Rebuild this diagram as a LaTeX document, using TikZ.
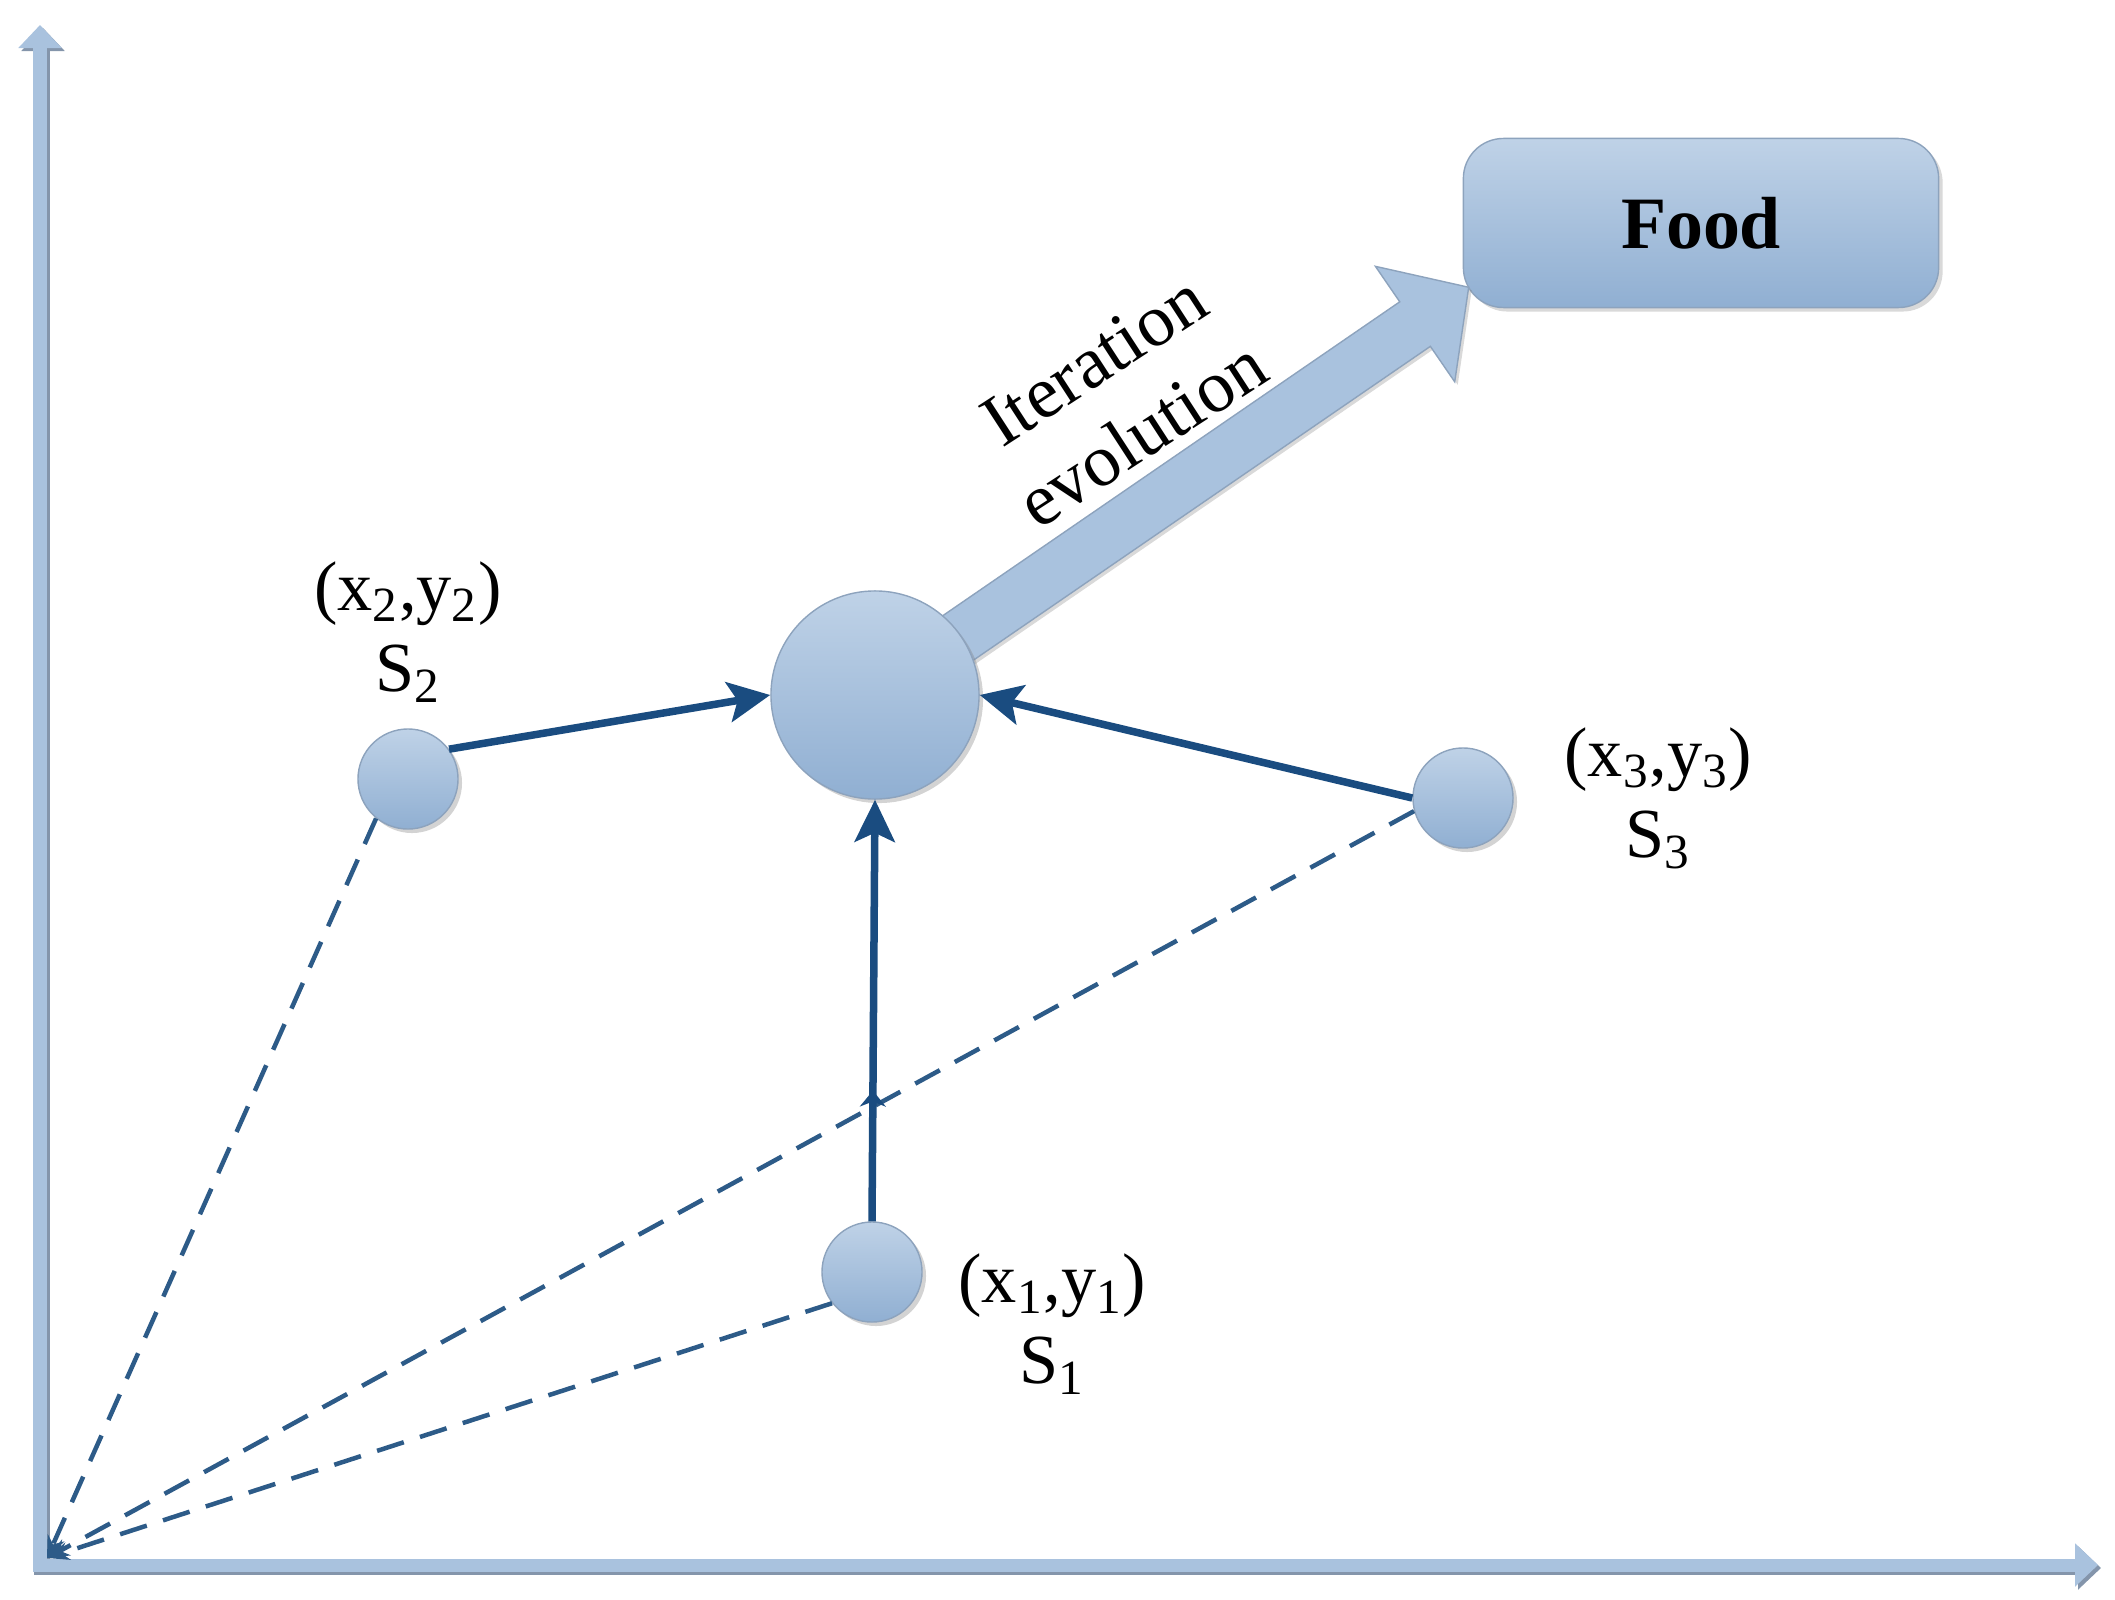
\documentclass[tikz,border=0pt]{standalone}
\usepackage{fontspec}
\setmainfont{Liberation Serif}
\usetikzlibrary{positioning,calc,arrows.meta,shadows,decorations.markings}

\definecolor{nodetop}{HTML}{BFD2E7}
\definecolor{nodebot}{HTML}{90AFD2}
\definecolor{nodeedge}{HTML}{8DA3BD}
\definecolor{axisblue}{HTML}{A9C2DE}
\definecolor{axisedge}{HTML}{8495AB}
\definecolor{pathblue}{HTML}{1A4C80}
\definecolor{dashblue}{HTML}{2D5B88}

\tikzset{
  agent/.style={circle, inner sep=0pt, minimum size=1cm, draw=nodeedge, thin,
    top color=nodetop, bottom color=nodebot,
    drop shadow={shadow xshift=0.04cm, shadow yshift=-0.04cm, opacity=0.35}},
  foodbox/.style={rectangle, rounded corners=0.4cm, minimum width=4.75cm, minimum height=1.69cm,
    draw=nodeedge, thin, top color=nodetop, bottom color=nodebot,
    drop shadow={shadow xshift=0.04cm, shadow yshift=-0.04cm, opacity=0.3},
    font=\fontsize{21}{25}\selectfont\bfseries},
  evolve/.style={fill=axisblue, draw=nodeedge, thin,
    drop shadow={shadow xshift=0.03cm, shadow yshift=-0.03cm, opacity=0.3}},
  coordlab/.style={align=center, inner sep=0pt, font=\fontsize{20}{23}\selectfont},
  growlab/.style={align=center, inner sep=0pt, font=\fontsize{21}{25}\selectfont},
  pull/.style={-{Stealth[length=0.42cm,width=0.4cm,inset=0.09cm]}, line width=0.075cm, pathblue},
  ray/.style={-{Stealth[length=0.22cm,width=0.18cm]}, dash pattern=on 0.28cm off 0.17cm,
    line width=0.045cm, dashblue},
  axisbar/.style={-{Triangle[width=0.42cm,length=0.23cm]}, line width=0.13cm, axisblue},
  kink/.style={postaction={decorate}, decoration={markings,
    mark=at position 0.31 with {\arrow{Stealth[length=0.16cm,width=0.26cm]}}}},
}

\begin{document}
\begin{tikzpicture}[x=0.01cm, y=-0.01cm]
  \useasboundingbox (0,0) rectangle (2115,1600);
  % axes
  \draw[axisbar, axisedge] (43,1575) -- (43,28);
  \draw[axisbar] (40,1572) -- (40,25);
  \draw[axisbar, axisedge] (34,1568) -- (2101,1568);
  \draw[axisbar] (34,1565) -- (2098,1565);
  \coordinate (origin) at (47,1558);

  % food and search positions
  \node[foodbox] (food) at (1701,223) {Food};
  \coordinate (hub) at (875,695);
  \coordinate (tip) at ([shift={(6,-21)}]food.south west);
  \node[agent] (s2) at (408,779) {};
  \node[agent] (s3) at (1463,798) {};
  \node[agent] (s1) at (872,1272) {};

  % distances to the origin
  \draw[ray] (s2.231) -- (origin);
  \draw[ray] (s3.195) -- (origin);
  \draw[ray] (s1.218) -- (origin);

  % iteration arrow
  \coordinate (neck) at ($(tip)!0.65cm!(hub)$);
  \filldraw[evolve] ($(hub)!0.27cm!90:(tip)$) -- ($(neck)!0.27cm!-90:(hub)$)
    -- ($(neck)!0.7cm!-90:(hub)$) -- (tip) -- ($(neck)!0.7cm!90:(hub)$)
    -- ($(neck)!0.27cm!90:(hub)$) -- ($(hub)!0.27cm!-90:(tip)$) -- cycle;
  \node[agent, minimum size=2.08cm] (centre) at (hub) {};

  \draw[pull] (s2.36) -- (centre.west);
  \draw[pull] (s3.west) -- (centre.east);
  \draw[pull, kink] (s1.north) -- (centre.south);

  % labels
  \node[coordlab, above=0.25cm of s2] (s2lab) {(x\textsubscript{2},y\textsubscript{2})\\S\textsubscript{2}};
  \node[coordlab, right=0.5cm of s3] (s3lab) {(x\textsubscript{3},y\textsubscript{3})\\S\textsubscript{3}};
  \node[coordlab, right=0.35cm of s1, yshift=-0.52cm] (s1lab) {(x\textsubscript{1},y\textsubscript{1})\\S\textsubscript{1}};
  \node[growlab, rotate=33] (evolab) at (1118,397) {Iteration\\evolution};
\end{tikzpicture}
\end{document}
